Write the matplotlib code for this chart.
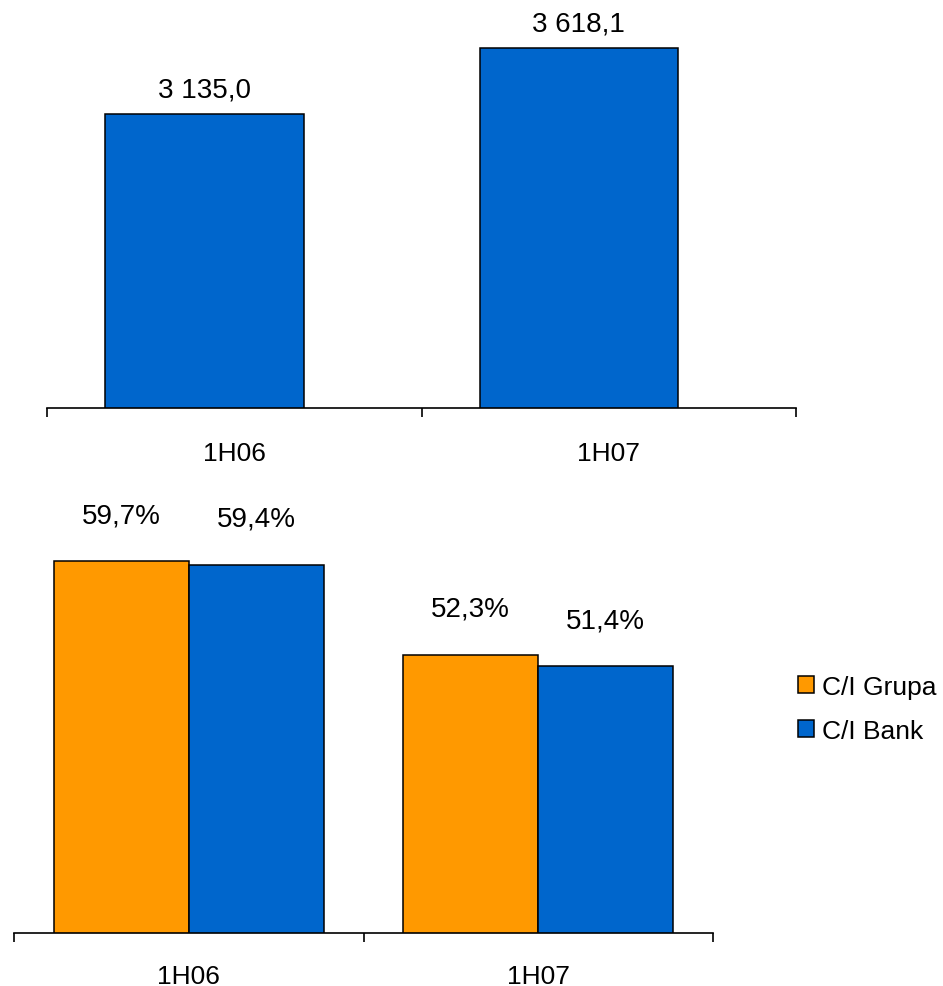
import numpy as np
import matplotlib
matplotlib.use("Agg")
import matplotlib.pyplot as plt
from matplotlib.patches import Patch

plt.rcParams['font.family'] = ['Liberation Sans', 'DejaVu Sans']

periods = ['1H06', '1H07']
total = [3135.0, 3618.1]
ci_grupa = [59.7, 52.3]
ci_bank = [59.4, 51.4]
series_names = ['C/I Grupa', 'C/I Bank']

ORANGE = '#FF9900'
BLUE = '#0066CC'
FS = 19
VFS = 20

W, H = 943, 987
fig = plt.figure(figsize=(W / 100, H / 100), dpi=100)


def fmt_num(v):
    return '{:,.1f}'.format(v).replace(',', ' ').replace('.', ',')


def fmt_pct(v):
    return '{:.1f}%'.format(v).replace('.', ',')


def style_axis(ax, pad):
    for s in ['top', 'right', 'left']:
        ax.spines[s].set_visible(False)
    ax.spines['bottom'].set_linewidth(1.2)
    ax.set_yticks([])
    ax.set_xlim(-0.5, len(periods) - 0.5)
    ax.set_xticks(np.arange(len(periods) + 1) - 0.5)
    ax.set_xticklabels([])
    ax.tick_params(axis='x', which='major', direction='out', length=6.5, width=1.2)
    ax.set_xticks(np.arange(len(periods)), minor=True)
    ax.set_xticklabels(periods, minor=True, fontsize=FS)
    ax.tick_params(axis='x', which='minor', length=0, pad=pad)
    ax.patch.set_alpha(0)


# top chart
ax1 = fig.add_axes([47 / W, (H - 409) / H, 749 / W, 379 / H])
x = np.arange(len(periods))
bars = ax1.bar(x - 0.08, total, width=0.53, color=BLUE, edgecolor='black', linewidth=1.1)
ax1.set_ylim(983, 983 + 379 / 0.1366)
for b, v in zip(bars, total):
    ax1.annotate(fmt_num(v), (b.get_x() + b.get_width() / 2, v), xytext=(0, 12.5),
                 textcoords='offset points', ha='center', va='baseline', fontsize=VFS)
style_axis(ax1, 23.5)

# bottom chart
ax2 = fig.add_axes([14 / W, (H - 934) / H, 699 / W, 454 / H])
bw = 0.386
b1 = ax2.bar(x - bw / 2, ci_grupa, width=bw, color=ORANGE, edgecolor='black', linewidth=1.1)
b2 = ax2.bar(x + bw / 2, ci_bank, width=bw, color=BLUE, edgecolor='black', linewidth=1.1)
ax2.set_ylim(30.4, 30.4 + 454 / 12.7)
for bs, vals in [(b1, ci_grupa), (b2, ci_bank)]:
    for b, v in zip(bs, vals):
        ax2.annotate(fmt_pct(v), (b.get_x() + b.get_width() / 2, v), xytext=(0, 28),
                     textcoords='offset points', ha='center', va='baseline', fontsize=VFS)
style_axis(ax2, 22)

handles = [Patch(facecolor=ORANGE, edgecolor='black', linewidth=1.1),
           Patch(facecolor=BLUE, edgecolor='black', linewidth=1.1)]
fig.legend(handles, series_names, loc='center left', bbox_to_anchor=(798 / W, 1 - 710 / H),
           frameon=False, fontsize=FS, handlelength=0.62, handleheight=0.62,
           handletextpad=0.3, labelspacing=0.75, borderpad=0, borderaxespad=0)

fig.savefig('out.png', dpi=100)
